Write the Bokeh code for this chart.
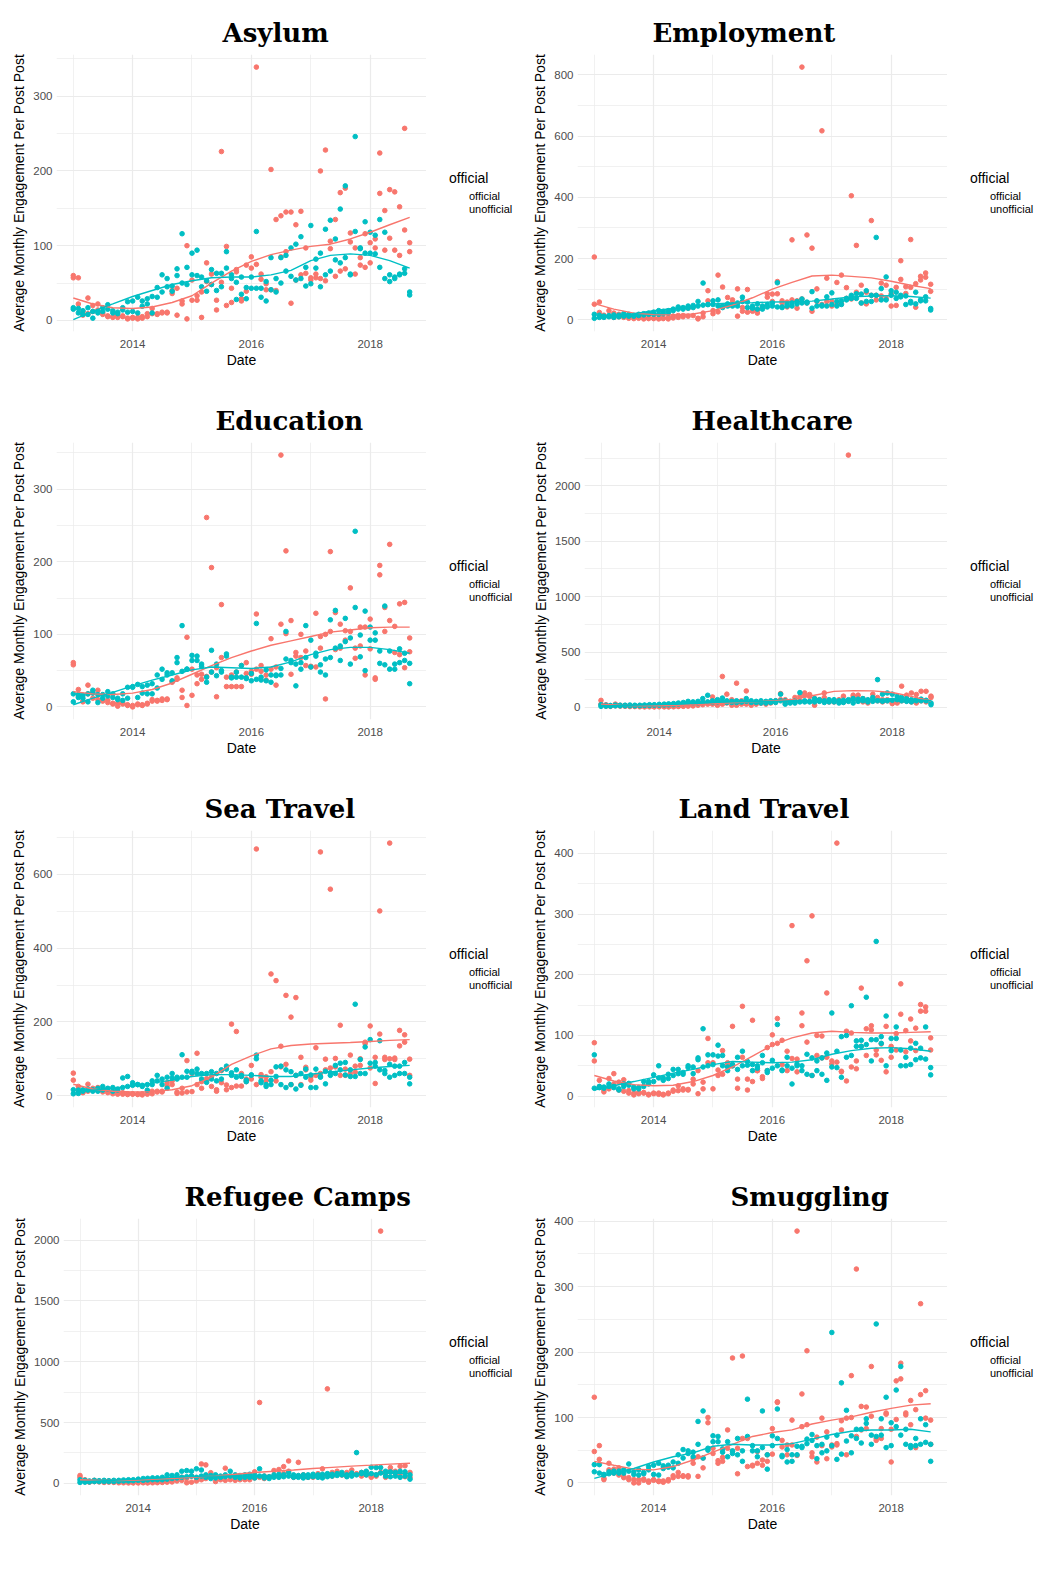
import pandas as pd
from bokeh.plotting import figure
from bokeh.models import (FixedTicker, DatetimeTickFormatter, Range1d, Legend,
                          LegendItem)
from bokeh.embed import file_html
from bokeh.resources import INLINE

RED = "#F8766D"
CYAN = "#00BFC4"

MONTHS = pd.date_range("2013-01-01", "2018-09-01", freq="MS")      # 69 months
SMOOTH_DATES = pd.date_range("2013-01-01", "2018-09-01", freq="4MS")  # 18 points

Y_LABEL = "Average Monthly Engagement Per Post Post"

# ---------------- Asylum ----------------
ASYLUM_OFF_A = [60,57,12,30,20,22,10,6,5,6,6,2, 4,4,3,5,16,9,11,11,36,43,26,100, 54,33,38,77,62,27,226,99,43,65,29,74, 85,339,62,49,202,135,140,145,145,128,146,97, 57,62,200,228,106,135,171,177,117,97,84,116, 104,109,224,147,175,172,152,257,104]
ASYLUM_OFF_B = [57,22,7,9,12,14,8,5,4,4,5,3, 3,2,5,9,9,8,10,10,40,7,22,2, 27,27,4,52,48,14,51,20,24,68,26,39, 70,75,55,41,41,40,85,92,23,54,61,63, 54,57,56,53,96,59,66,69,105,62,74,71, 77,97,170,94,110,94,87,121,92]
ASYLUM_UN_A = [17,16,13,17,3,12,17,21,13,11,17,25, 26,31,26,29,32,44,61,56,46,69,116,71, 90,94,58,53,68,63,63,92,61,51,58,44, 58,119,43,52,84,56,50,87,97,102,112,71, 127,82,90,122,134,109,149,180,62,246,97,132, 118,114,135,118,61,58,61,69,38]
ASYLUM_UN_B = [15,10,8,8,12,10,12,15,10,9,14,11, 12,10,19,22,10,31,38,45,39,60,50,48, 61,60,45,39,48,40,45,70,56,28,35,29, 43,43,31,26,41,38,84,66,59,54,56,46, 49,70,45,61,66,81,77,84,61,119,96,90, 90,89,71,56,52,56,62,63,34]
ASYLUM_SM_OFF = [30,22,17,16,18,24,33,50,66,79,88,94,99,102,109,118,128,138]
ASYLUM_SM_UN = [1,12,22,32,40,48,53,57,58,58,61,67,80,87,89,87,80,70]

# ---------------- Employment ----------------
EMPLOY_OFF_A = [205,58,15,30,22,18,15,12,10,8,8,6, 6,6,6,8,12,14,14,38,42,5,22,95, 30,146,107,73,55,101,40,99,35,32,40,74, 84,125,62,58,261,62,825,277,234,101,617,136, 60,122,146,105,405,243,113,90,324,80,120,113, 85,106,193,108,262,118,142,153,116]
EMPLOY_OFF_B = [51,24,10,12,8,10,8,5,4,5,3,4, 4,3,4,3,6,8,10,12,14,3,10,62, 20,26,45,48,65,12,28,25,28,22,42,85, 60,85,55,42,65,38,68,55,28,60,50,60, 45,52,52,70,68,90,55,52,80,65,78,70, 45,47,132,86,106,41,130,139,93]
EMPLOY_UN_A = [18,15,12,14,16,15,20,18,15,18,20,22, 25,30,28,30,35,42,40,45,47,60,120,50, 62,65,45,52,48,55,74,58,45,52,45,50, 55,121,42,50,55,60,68,58,92,62,48,75, 88,60,62,65,80,85,84,95,80,269,102,140, 95,90,80,78,60,90,65,75,37]
EMPLOY_UN_B = [5,8,8,10,8,10,12,12,12,14,16,18, 18,18,20,22,30,35,35,38,40,45,48,50, 50,45,40,45,45,45,60,40,38,35,35,42, 45,42,40,45,45,52,55,55,38,45,45,45, 50,45,50,70,70,70,55,60,60,80,65,65, 80,70,75,50,55,52,62,62,32]
EMPLOY_SM_OFF = [53,35,22,17,16,19,30,48,72,100,122,143,146,142,137,126,113,102]
EMPLOY_SM_UN = [5,12,20,30,37,45,52,55,56,58,59,61,68,75,78,79,76,71]

# ---------------- Education ----------------
EDU_OFF_A = [61,24,7,30,20,23,10,9,4,5,6,2, 2,4,3,5,10,9,11,11,35,40,23,96, 52,44,38,261,192,54,141,41,44,48,57,61, 49,128,57,44,94,55,347,215,119,75,100,77, 55,129,97,100,214,130,114,105,164,81,110,110, 121,38,195,137,224,111,142,144,95]
EDU_OFF_B = [58,15,8,18,12,10,8,6,5,1,4,3, 0,3,2,4,8,8,9,10,34,38,13,2, 16,32,45,42,48,14,68,28,28,28,28,46, 45,52,49,37,52,30,114,101,45,70,68,57, 56,55,81,11,104,79,81,92,104,67,84,44, 80,40,182,104,119,75,72,54,76]
EDU_UN_A = [18,17,16,18,23,17,17,21,18,12,18,27, 28,31,28,30,32,44,52,47,47,68,112,52, 71,70,59,41,78,59,50,73,41,48,57,40, 46,115,41,51,44,44,53,104,64,59,61,112, 92,74,58,66,120,133,84,122,95,242,99,132, 110,102,77,139,77,59,80,74,60]
EDU_UN_B = [7,13,12,7,19,6,12,15,13,10,9,12, 27,13,19,18,18,26,38,44,36,61,49,52, 64,64,56,34,48,43,48,70,40,41,41,39, 36,38,37,36,34,43,44,66,61,29,52,68, 55,70,48,44,68,81,64,90,59,137,69,50, 92,92,60,58,52,52,61,64,32]
EDU_SM_OFF = [21,18,17,19,24,33,45,57,68,77,85,91,97,103,106,109,110,110]
EDU_SM_UN = [3,12,20,29,37,44,51,55,54,53,55,62,72,79,82,82,79,74]

# ---------------- Healthcare ----------------
HEALTH_OFF_A = [64,25,15,30,20,18,15,12,12,10,10,8, 10,12,8,10,15,18,25,30,40,50,45,95, 60,280,120,70,219,60,149,40,35,40,45,50, 60,125,70,50,90,100,131,117,80,70,131,60, 60,70,102,2277,111,111,80,60,120,90,70,60, 40,50,192,111,131,117,146,146,102]
HEALTH_OFF_B = [30,12,10,15,12,10,8,8,6,5,6,5, 6,5,5,6,8,10,12,14,20,25,30,30, 20,30,40,20,20,30,30,20,30,40,30,40, 50,70,40,45,50,60,110,100,20,60,90,50, 50,50,50,60,90,60,50,40,80,60,50,70, 35,40,60,60,50,40,60,50,90]
HEALTH_UN_A = [25,20,18,22,20,20,22,20,20,22,25,25, 28,30,32,35,40,45,55,50,55,80,110,60, 70,85,60,55,60,50,80,60,55,60,55,60, 60,120,60,55,60,134,60,55,80,70,60,70, 70,60,65,70,80,75,80,70,90,251,120,131, 120,100,90,80,70,70,75,65,40]
HEALTH_UN_B = [10,12,12,15,15,15,15,15,16,18,18,20, 20,22,24,25,30,35,40,40,40,45,50,45, 50,55,45,45,45,50,55,45,45,40,40,45, 45,60,30,40,40,50,50,50,50,55,45,50, 50,40,45,55,40,55,60,50,55,60,55,60, 65,70,60,55,50,60,60,60,25]
HEALTH_SM_OFF = [30,20,15,15,18,25,35,45,52,60,75,110,145,152,150,135,100,58]
HEALTH_SM_UN = [12,18,22,26,32,40,48,52,52,55,58,60,62,65,72,78,72,62]

# ---------------- Sea Travel ----------------
SEA_OFF_A = [61,25,9,31,20,22,15,12,10,8,8,5, 5,4,5,10,12,12,12,35,40,10,7,95, 11,115,20,46,51,16,68,29,194,174,26,38, 82,669,57,51,330,312,134,272,213,266,104,77, 42,130,661,99,560,101,191,55,110,64,82,141, 189,104,501,104,685,102,177,165,99]
SEA_OFF_B = [42,15,8,12,15,14,10,8,5,4,4,3, 4,3,2,4,5,10,10,26,30,6,20,10, 60,30,38,40,25,12,35,16,22,26,60,45, 45,30,50,40,65,40,78,85,30,55,30,70, 50,55,60,70,75,78,55,72,60,80,100,145, 75,33,167,98,100,98,135,145,55]
SEA_UN_A = [16,15,16,18,16,20,25,20,22,18,48,52, 35,30,28,30,40,55,45,50,60,50,111,66, 66,72,60,60,65,60,70,80,62,70,55,42, 56,110,40,30,42,78,80,70,65,55,60,72, 56,72,52,66,62,82,88,90,70,248,98,132, 152,90,149,68,85,80,80,90,50]
SEA_UN_B = [5,6,12,15,12,12,15,18,12,15,22,25, 28,30,25,15,30,40,30,20,48,45,50,50, 62,60,45,36,45,40,45,72,55,50,52,38, 56,100,35,25,30,52,30,22,30,18,28,50, 22,22,50,32,55,60,70,56,52,52,60,60, 88,80,70,60,50,55,60,60,32]
SEA_SM_OFF = [31,18,12,10,11,16,27,50,85,108,127,136,140,142,144,147,150,152]
SEA_SM_UN = [9,15,20,26,34,42,52,57,57,55,52,52,58,64,70,75,79,82]

# ---------------- Land Travel ----------------
LAND_OFF_A = [88,26,7,29,37,23,27,9,5,6,6,2, 5,5,3,5,10,17,12,11,28,42,23,95, 55,34,75,52,115,28,148,28,125,42,32,80, 101,128,92,74,281,61,137,223,297,100,99,170, 58,417,41,107,104,58,178,111,116,76,86,115, 82,103,185,108,127,112,151,147,96]
LAND_OFF_B = [58,15,10,12,20,10,8,5,2,4,5,3, 4,3,2,4,8,9,10,10,20,4,12,55, 12,43,36,55,50,13,64,10,24,42,29,42, 85,87,52,42,62,40,116,89,34,67,63,64, 53,56,40,25,48,45,82,67,109,68,59,40, 64,76,135,73,91,75,140,140,76]
LAND_UN_A = [68,16,15,20,16,12,20,21,15,14,24,24, 35,50,30,36,44,44,39,50,48,63,111,68, 68,84,67,48,52,64,74,57,52,50,67,42, 59,118,43,64,46,53,50,69,63,58,63,71, 137,74,98,100,149,91,92,163,93,255,98,132, 95,114,76,64,79,87,79,114,47]
LAND_UN_B = [13,14,13,16,14,10,16,18,12,12,16,20, 24,30,26,29,34,37,36,47,37,60,48,50, 52,66,50,42,50,44,50,51,42,46,55,39, 46,50,42,50,20,50,42,36,34,42,36,26, 48,47,31,64,67,82,82,85,58,93,87,50, 75,95,50,50,52,60,63,61,35]
LAND_SM_OFF = [34,25,19,17,18,24,34,48,66,84,96,104,107,105,104,104,105,106]
LAND_SM_UN = [10,17,24,31,38,44,52,57,56,55,56,60,69,75,79,80,78,74]

# ---------------- Refugee Camps ----------------
CAMPS_OFF_A = [65,30,15,25,20,18,20,15,12,10,10,8, 8,10,8,10,12,15,18,20,30,50,40,60, 40,160,152,88,60,40,125,50,50,40,45,50, 95,665,60,55,106,114,138,184,60,173,70,60, 60,80,120,777,90,100,70,60,110,80,90,70, 60,70,2074,80,130,100,140,145,90]
CAMPS_OFF_B = [50,20,10,15,12,8,10,8,5,5,4,4, 4,5,4,5,6,8,10,12,20,25,5,10, 20,30,40,50,15,30,25,30,25,30,30,30, 45,50,40,50,60,55,80,100,50,60,50,50, 50,55,60,70,60,80,70,90,80,75,60,90, 50,60,90,50,100,80,80,55,50]
CAMPS_UN_A = [30,25,20,25,22,25,22,25,25,28,30,30, 35,40,42,45,45,50,70,65,70,100,105,100, 120,110,70,65,70,60,70,100,70,65,70,75, 70,120,60,55,70,75,70,90,70,65,70,70, 75,70,75,80,75,80,90,70,85,253,90,100, 133,130,130,100,95,90,100,95,70]
CAMPS_UN_B = [8,10,12,15,15,15,15,15,18,20,20,22, 25,25,28,30,30,30,35,40,45,50,55,60, 50,60,50,40,45,50,55,60,50,45,50,50, 45,60,45,40,50,50,55,60,50,50,45,50, 55,50,45,55,60,65,70,55,60,70,80,70, 80,70,85,60,55,60,50,60,35]
CAMPS_SM_OFF = [30,25,24,28,35,42,52,62,75,90,100,110,122,132,142,150,158,165]
CAMPS_SM_UN = [12,20,28,35,43,52,58,60,60,60,62,64,68,72,78,82,82,80]

# ---------------- Smuggling ----------------
SMUG_OFF_A = [131,57,7,30,21,23,10,8,5,5,6,1, 5,3,1,5,11,16,11,11,37,40,38,100, 53,34,39,81,191,53,194,68,27,48,35,43, 83,124,65,58,96,385,136,202,46,70,99,78, 58,60,81,99,164,327,117,116,178,68,83,107, 82,156,183,107,126,112,274,141,96]
SMUG_OFF_B = [48,36,5,20,15,12,8,5,0,0,4,3, 4,2,3,3,8,10,10,9,30,10,23,92, 45,30,33,53,48,14,68,25,26,30,27,33, 44,123,55,43,58,42,86,89,40,32,57,37, 55,58,95,43,100,71,81,83,102,65,68,105, 32,97,159,104,89,54,135,99,59]
SMUG_UN_A = [28,28,13,17,18,15,15,29,17,20,16,25, 27,30,26,27,32,43,51,49,47,94,110,53, 72,71,52,63,49,68,49,128,57,49,110,21, 72,113,42,51,43,56,54,67,74,57,46,70, 230,73,153,111,72,82,82,98,73,243,98,131, 92,142,178,82,54,68,98,89,59]
SMUG_UN_B = [17,15,12,14,15,18,20,18,13,12,14,20, 13,12,22,24,23,30,38,45,40,59,38,50, 63,63,47,40,45,43,33,71,49,40,54,43, 57,68,40,32,33,43,56,60,65,37,59,49, 57,36,44,64,46,68,61,91,59,71,73,54, 57,86,73,59,57,57,59,62,33]
SMUG_SM_OFF = [33,27,21,20,25,35,47,59,71,77,81,90,96,101,108,114,119,121]
SMUG_SM_UN = [7,15,22,32,40,46,56,59,58,58,60,67,74,79,81,81,82,78]

TICKS_100 = ([0, 100, 200, 300], [50, 150, 250, 350])
TICKS_100_400 = ([0, 100, 200, 300, 400], [50, 150, 250, 350])
TICKS_200 = ([0, 200, 400, 600, 800], [100, 300, 500, 700])
TICKS_500 = ([0, 500, 1000, 1500, 2000], [250, 750, 1250, 1750, 2250])

LEGEND_TITLE = "official"
LEGEND_LABELS = ["official", "unofficial"]

# title, left edge of title (px inside the figure)
PANELS = [
    ("Asylum", 212, ASYLUM_OFF_A, ASYLUM_OFF_B, ASYLUM_UN_A, ASYLUM_UN_B, ASYLUM_SM_OFF, ASYLUM_SM_UN, TICKS_100),
    ("Employment", 121, EMPLOY_OFF_A, EMPLOY_OFF_B, EMPLOY_UN_A, EMPLOY_UN_B, EMPLOY_SM_OFF, EMPLOY_SM_UN, TICKS_200),
    ("Education", 205, EDU_OFF_A, EDU_OFF_B, EDU_UN_A, EDU_UN_B, EDU_SM_OFF, EDU_SM_UN, TICKS_100),
    ("Healthcare", 153, HEALTH_OFF_A, HEALTH_OFF_B, HEALTH_UN_A, HEALTH_UN_B, HEALTH_SM_OFF, HEALTH_SM_UN, TICKS_500),
    ("Sea Travel", 194, SEA_OFF_A, SEA_OFF_B, SEA_UN_A, SEA_UN_B, SEA_SM_OFF, SEA_SM_UN, TICKS_200),
    ("Land Travel", 147, LAND_OFF_A, LAND_OFF_B, LAND_UN_A, LAND_UN_B, LAND_SM_OFF, LAND_SM_UN, TICKS_100_400),
    ("Refugee Camps", 167, CAMPS_OFF_A, CAMPS_OFF_B, CAMPS_UN_A, CAMPS_UN_B, CAMPS_SM_OFF, CAMPS_SM_UN, TICKS_500),
    ("Smuggling", 199, SMUG_OFF_A, SMUG_OFF_B, SMUG_UN_A, SMUG_UN_B, SMUG_SM_OFF, SMUG_SM_UN, TICKS_100_400),
]


def ms(ts):
    return pd.Timestamp(ts).value / 1e6


FONT = "Liberation Sans"
PLOT_W, LEG_W, FIG_H = 418, 103, 388
BORDER_L, BORDER_R = 46, 0
BORDER_T, BORDER_B = 45, 65

# each panel (and its legend) is its own root; the page places them on a grid
PAGE_TEMPLATE = """
{% block postamble %}
<style>
  html, body { margin: 0; padding: 0; }
  body {
    margin: 8px !important;
    display: grid !important;
    grid-template-columns: 418px 103px 418px 103px;
    grid-auto-rows: 388px;
    width: 1042px;
    height: auto !important;
  }
  body > div {
    display: block !important;
    overflow: hidden;
  }
</style>
{% endblock %}
"""


def make_panel(title, title_left, off_a, off_b, un_a, un_b, sm_off, sm_un, ticks):
    allv = off_a + off_b + un_a + un_b
    lo, hi = min(allv), max(allv)
    pad = 0.05 * (hi - lo)
    t0, t1 = ms(MONTHS[0]), ms(MONTHS[-1])
    tpad = 0.05 * (t1 - t0)

    p = figure(width=PLOT_W, height=FIG_H, x_axis_type="datetime",
               output_backend="svg", toolbar_location=None,
               x_range=Range1d(t0 - tpad, t1 + tpad),
               y_range=Range1d(lo - pad, hi + pad),
               min_border_left=BORDER_L, min_border_right=BORDER_R,
               min_border_top=BORDER_T, min_border_bottom=BORDER_B,
               title=title)
    p.outline_line_color = None
    p.background_fill_color = "white"
    p.border_fill_color = "white"

    xs = list(MONTHS) + list(MONTHS)
    p.scatter(xs, off_a + off_b, size=4.6, fill_color=RED, line_color=RED)
    p.scatter(xs, un_a + un_b, size=4.6, fill_color=CYAN, line_color=CYAN)
    p.line(list(SMOOTH_DATES), sm_off, line_width=1.4, line_color=RED)
    p.line(list(SMOOTH_DATES), sm_un, line_width=1.4, line_color=CYAN)

    xt = FixedTicker(ticks=[ms("2014-01-01"), ms("2016-01-01"), ms("2018-01-01")],
                     minor_ticks=[ms("2013-01-01"), ms("2015-01-01"), ms("2017-01-01")])
    yt = FixedTicker(ticks=ticks[0], minor_ticks=ticks[1])
    p.xaxis.ticker = xt
    p.xgrid.ticker = xt
    p.yaxis.ticker = yt
    p.ygrid.ticker = yt
    p.xaxis.formatter = DatetimeTickFormatter(years="%Y", months="%Y", days="%Y")

    for g in (p.xgrid, p.ygrid):
        g.grid_line_color = "#ebebeb"
        g.grid_line_width = 1.2
        g.minor_grid_line_color = "#ebebeb"
        g.minor_grid_line_width = 0.7

    p.xaxis.axis_label = "Date"
    p.yaxis.axis_label = Y_LABEL
    for ax in p.axis:
        ax.axis_line_color = None
        ax.major_tick_line_color = None
        ax.minor_tick_line_color = None
        ax.major_tick_out = 0
        ax.major_tick_in = 0
        ax.minor_tick_out = 0
        ax.major_label_text_font = FONT
        ax.major_label_text_font_size = "11.5px"
        ax.major_label_text_color = "#4d4d4d"
        ax.major_label_standoff = 4
        ax.axis_label_text_font = FONT
        ax.axis_label_text_font_size = "14px"
        ax.axis_label_text_font_style = "normal"
        ax.axis_label_text_color = "black"
        ax.axis_label_standoff = 3
    p.xaxis.major_label_standoff = 8
    p.xaxis.axis_label_standoff = 1

    p.title.text_font = "DejaVu Serif"
    p.title.text_font_style = "bold"
    p.title.text_font_size = "26px"
    p.title.text_color = "black"
    p.title.align = "left"
    p.title.offset = title_left - BORDER_L
    p.title.standoff = 14
    return p


def make_legend():
    q = figure(width=LEG_W, height=FIG_H, output_backend="svg",
               toolbar_location=None, x_axis_location=None, y_axis_location=None,
               x_range=Range1d(0, 1), y_range=Range1d(0, 1),
               min_border_left=0, min_border_right=0,
               min_border_top=0, min_border_bottom=0)
    q.outline_line_color = None
    q.grid.visible = False
    q.background_fill_color = "white"
    q.border_fill_color = "white"
    # legend keys only: renderers with no data
    ol = q.line(x=[], y=[], line_width=1.4, line_color=RED)
    op = q.scatter(x=[], y=[], size=4.6, fill_color=RED, line_color=RED)
    ul = q.line(x=[], y=[], line_width=1.4, line_color=CYAN)
    up = q.scatter(x=[], y=[], size=4.6, fill_color=CYAN, line_color=CYAN)
    legend = Legend(items=[LegendItem(label=LEGEND_LABELS[0], renderers=[ol, op]),
                           LegendItem(label=LEGEND_LABELS[1], renderers=[ul, up])],
                    title=LEGEND_TITLE, location=(23, 181))
    legend.title_text_font = FONT
    legend.title_text_font_size = "14px"
    legend.title_text_font_style = "normal"
    legend.title_text_color = "black"
    legend.title_standoff = 4
    legend.label_text_font = FONT
    legend.label_text_font_size = "11px"
    legend.label_text_color = "black"
    legend.label_height = 11
    legend.label_standoff = 4
    legend.glyph_width = 16
    legend.glyph_height = 11
    legend.spacing = 1
    legend.padding = 0
    legend.margin = 0
    legend.border_line_color = None
    legend.background_fill_alpha = 0
    q.add_layout(legend)
    return q


roots = []
for args in PANELS:
    roots.append(make_panel(*args))
    roots.append(make_legend())

open("out.html", "w").write(file_html(roots, INLINE, template=PAGE_TEMPLATE))
